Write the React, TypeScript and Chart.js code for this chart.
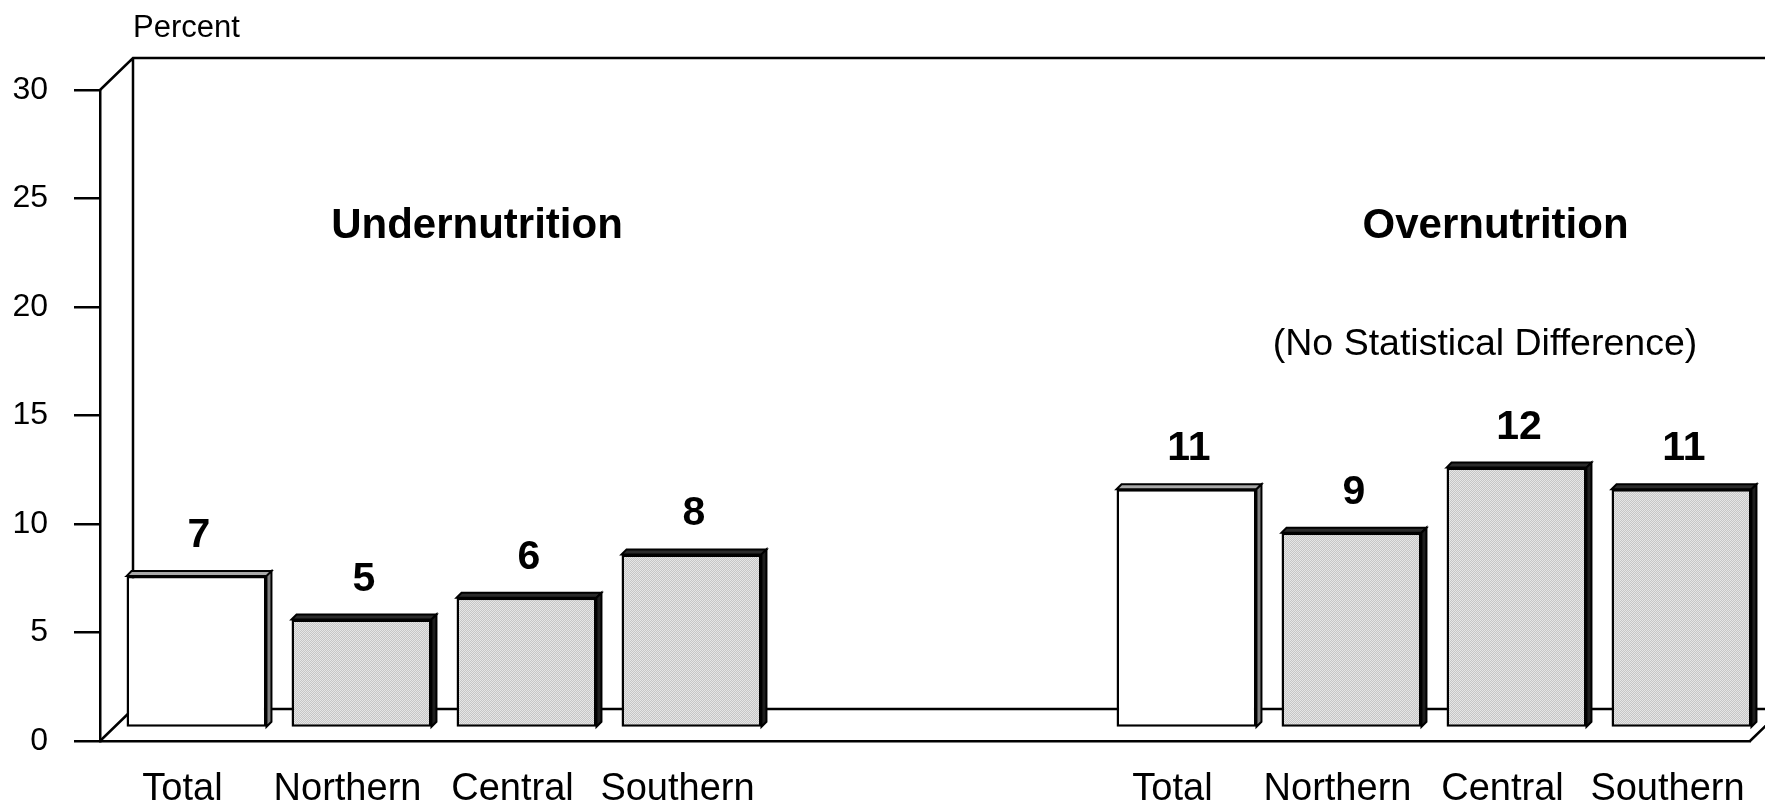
import React, { useEffect, useRef } from 'react';
import { Chart, registerables } from 'chart.js';

Chart.register(...registerables);

// ---- data ----
const regions = ['Total', 'Northern', 'Central', 'Southern'];
const undernutrition = [7, 5, 6, 8];
const overnutrition = [11, 9, 12, 11];
const gapSlots = ['', ''];
const yTickValues = [0, 5, 10, 15, 20, 25, 30];
const groupTitles = ['Undernutrition', 'Overnutrition'];
const subtitle = '(No Statistical Difference)';
const axisTitle = 'Percent';

const FONT = '"Liberation Sans", Arial, Helvetica, sans-serif';
const WALL_DX = 33;
const WALL_DY = 32;
const BAR_SHIFT_X = 14;
const BAR_SHIFT_Y = 13;
const BAR_DEPTH = 5;
const LINE_W = 2.5;

const labels = [...regions, ...gapSlots, ...regions];
const values: (number | null)[] = [...undernutrition, ...gapSlots.map(() => null), ...overnutrition];

function makePattern(): CanvasPattern | string {
  const c = document.createElement('canvas');
  c.width = 2;
  c.height = 2;
  const g = c.getContext('2d');
  if (!g) return '#d9d9d9';
  g.fillStyle = '#e6e6e6';
  g.fillRect(0, 0, 2, 2);
  g.fillStyle = '#c6c6c6';
  g.fillRect(0, 0, 1, 1);
  g.fillRect(1, 1, 1, 1);
  const p = g.createPattern(c, 'repeat');
  return p || '#d9d9d9';
}

const threeDPlugin = {
  id: 'threeD',
  beforeDatasetsDraw(chart: any) {
    const { ctx, chartArea: a, scales } = chart;
    const y = scales.y;
    const top = y.getPixelForValue(yTickValues[yTickValues.length - 1]);
    const bot = y.getPixelForValue(yTickValues[0]);
    ctx.save();
    ctx.strokeStyle = '#000';
    ctx.lineWidth = LINE_W;
    ctx.beginPath();
    ctx.moveTo(a.left, top);
    ctx.lineTo(a.left + WALL_DX, top - WALL_DY);
    ctx.lineTo(chart.width + 10, top - WALL_DY);
    ctx.moveTo(a.left + WALL_DX, top - WALL_DY);
    ctx.lineTo(a.left + WALL_DX, bot - WALL_DY);
    ctx.lineTo(a.right + WALL_DX, bot - WALL_DY);
    ctx.lineTo(a.right, bot);
    ctx.moveTo(a.left, bot);
    ctx.lineTo(a.left + WALL_DX, bot - WALL_DY);
    ctx.stroke();
    ctx.restore();
    ctx.save();
    ctx.translate(BAR_SHIFT_X, -BAR_SHIFT_Y);
  },
  afterDatasetsDraw(chart: any) {
    const { ctx, chartArea: a, scales } = chart;
    const meta = chart.getDatasetMeta(0);
    const d = BAR_DEPTH;
    meta.data.forEach((bar: any, i: number) => {
      const v = values[i];
      if (v == null) return;
      const p = bar.getProps(['x', 'y', 'base', 'width'], true);
      const L = p.x - p.width / 2;
      const R = p.x + p.width / 2;
      const T = p.y;
      const B = p.base;
      const white = labels[i] === 'Total';
      ctx.save();
      ctx.strokeStyle = '#000';
      ctx.lineWidth = 2;
      ctx.lineJoin = 'miter';
      // top face
      ctx.beginPath();
      ctx.moveTo(L, T);
      ctx.lineTo(L + d, T - d);
      ctx.lineTo(R + d, T - d);
      ctx.lineTo(R, T);
      ctx.closePath();
      ctx.fillStyle = white ? '#a8a8a8' : '#2b2b2b';
      ctx.fill();
      ctx.stroke();
      // side face
      ctx.beginPath();
      ctx.moveTo(R, T);
      ctx.lineTo(R + d, T - d);
      ctx.lineTo(R + d, B - d);
      ctx.lineTo(R, B);
      ctx.closePath();
      ctx.fillStyle = white ? '#808080' : '#1e1e1e';
      ctx.fill();
      ctx.stroke();
      // value label
      ctx.fillStyle = '#000';
      ctx.font = `bold 41px ${FONT}`;
      ctx.textAlign = 'center';
      ctx.textBaseline = 'alphabetic';
      ctx.fillText(String(v), p.x + d / 2, T - 29);
      ctx.restore();
    });
    ctx.restore();

    // annotations
    const x = scales.x;
    const y = scales.y;
    ctx.save();
    ctx.fillStyle = '#000';
    ctx.textBaseline = 'alphabetic';
    ctx.textAlign = 'center';
    ctx.font = `bold 42px ${FONT}`;
    ctx.fillText(groupTitles[0], x.getPixelForValue(1.785), y.getPixelForValue(23.18));
    ctx.fillText(groupTitles[1], x.getPixelForValue(7.958), y.getPixelForValue(23.18));
    ctx.font = `37.5px ${FONT}`;
    ctx.fillText(subtitle, x.getPixelForValue(7.894), y.getPixelForValue(17.79));
    ctx.textAlign = 'left';
    ctx.font = `31px ${FONT}`;
    ctx.fillText(axisTitle, a.left + WALL_DX, y.getPixelForValue(30) - 53);
    ctx.restore();
  },
};

export default function App() {
  const ref = useRef<HTMLCanvasElement | null>(null);

  useEffect(() => {
    const canvas = ref.current;
    if (!canvas) return;
    const pattern = makePattern();
    const colors = labels.map((l) => (l === 'Total' ? '#ffffff' : pattern));
    const chart = new Chart(canvas, {
      type: 'bar',
      data: {
        labels,
        datasets: [
          {
            data: values as any,
            backgroundColor: colors as any,
            borderColor: '#000',
            borderWidth: 2.5,
            borderSkipped: false,
            barPercentage: 0.848,
            categoryPercentage: 1,
          },
        ],
      },
      options: {
        animation: false,
        responsive: false,
        devicePixelRatio: 1,
        layout: { padding: { top: 90, right: 15, left: 0, bottom: 0 } },
        plugins: {
          legend: { display: false },
          tooltip: { enabled: false },
          title: { display: false },
        },
        scales: {
          x: {
            type: 'category',
            grid: { display: false, drawTicks: false },
            border: { display: true, color: '#000', width: LINE_W },
            ticks: {
              color: '#000',
              font: { family: FONT, size: 38 },
              padding: 26,
              maxRotation: 0,
              autoSkip: false,
            },
            afterFit: (s: any) => {
              s.height = 64;
              s.paddingLeft = 0;
              s.paddingRight = 0;
            },
          },
          y: {
            min: 0,
            max: 30,
            grid: {
              display: true,
              drawOnChartArea: false,
              drawTicks: true,
              tickLength: 26,
              color: '#000',
              lineWidth: LINE_W,
            },
            border: { display: true, color: '#000', width: LINE_W },
            afterBuildTicks: (s: any) => {
              s.ticks = yTickValues.map((v) => ({ value: v }));
            },
            ticks: {
              color: '#000',
              font: { family: FONT, size: 32 },
              padding: 26,
              stepSize: 5,
            },
            afterFit: (s: any) => {
              s.width = 100;
            },
          },
        },
      },
      plugins: [threeDPlugin],
    });
    return () => chart.destroy();
  }, []);

  return (
    <div
      style={{
        position: 'absolute',
        left: 0,
        top: 0,
        width: 1765,
        height: 805,
        background: '#ffffff',
        overflow: 'hidden',
      }}
    >
      <canvas ref={ref} width={1765} height={805} style={{ display: 'block' }} />
    </div>
  );
}
